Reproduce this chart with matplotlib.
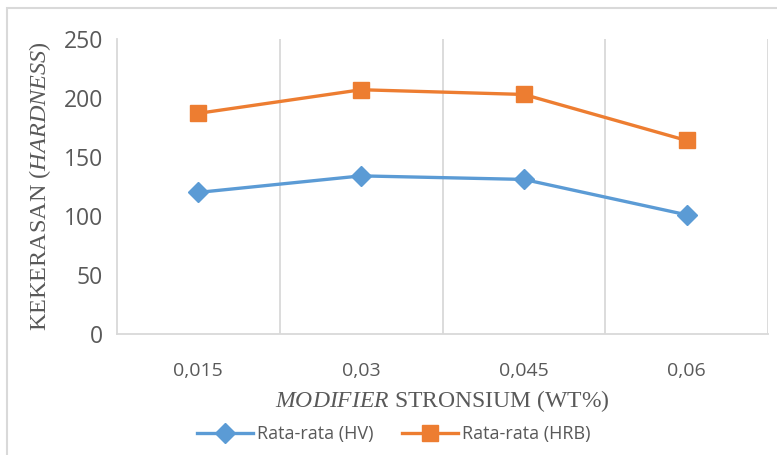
import matplotlib
matplotlib.use("Agg")
import matplotlib.pyplot as plt
from matplotlib.patches import Rectangle

# data
categories = ["0,015", "0,03", "0,045", "0,06"]
hv_values = [120, 134, 131, 101]
hrb_values = [187, 207, 203, 164]
y_ticks = [0, 50, 100, 150, 200, 250]

blue = "#5B9BD5"
orange = "#ED7D31"
text_gray = "#595959"
grid_gray = "#D9D9D9"

plt.rcParams["mathtext.fontset"] = "custom"
plt.rcParams["mathtext.rm"] = "Liberation Serif"
plt.rcParams["mathtext.it"] = "Liberation Serif:italic"

fig = plt.figure(figsize=(7.77, 4.55), dpi=100)
ax = fig.add_axes([117 / 777, 1 - 334 / 455, (768 - 117) / 777, (334 - 39) / 455])

x = list(range(len(categories)))
ax.plot(x, hv_values, color=blue, linewidth=2.4, marker="D", markersize=10,
        label="Rata-rata (HV)")
ax.plot(x, hrb_values, color=orange, linewidth=2.4, marker="s", markersize=12,
        label="Rata-rata (HRB)")

ax.set_xlim(-0.5, len(categories) - 0.5)
ax.set_ylim(0, 250)
ax.set_yticks(y_ticks)
ax.set_xticks(x)
ax.set_xticklabels(categories)
ax.set_xticks([i + 0.5 for i in x], minor=True)
ax.grid(True, which="minor", axis="x", color=grid_gray, linewidth=1.3)
ax.tick_params(which="both", length=0)
ax.tick_params(axis="y", labelsize=16.5, labelcolor=text_gray, pad=10)
ax.tick_params(axis="x", labelsize=14, labelcolor=text_gray, pad=20)
for lbl in ax.get_xticklabels() + ax.get_yticklabels():
    lbl.set_fontfamily("Open Sans")

for side in ["top", "right"]:
    ax.spines[side].set_visible(False)
for side in ["left", "bottom"]:
    ax.spines[side].set_color(grid_gray)
    ax.spines[side].set_linewidth(1.3)

ax.set_ylabel("KEKERASAN ($\\mathit{HARDNESS}$)", fontsize=17.5, color=text_gray,
              fontfamily="Liberation Serif", labelpad=8)
ax.set_xlabel("$\\mathit{MODIFIER}$ STRONSIUM (WT%)", fontsize=17, color=text_gray,
              fontfamily="Liberation Serif", labelpad=6)

leg = ax.legend(loc="upper center", bbox_to_anchor=(0.425, -0.255), ncol=2,
                frameon=False, handlelength=3.1, columnspacing=1.6,
                handletextpad=0.2, prop={"family": "Open Sans", "size": 13})
for t in leg.get_texts():
    t.set_color(text_gray)

# outer chart frame
fig.patches.append(Rectangle((7 / 777, -0.1), 1.2, 1 - 8 / 455 + 0.1,
                             transform=fig.transFigure, fill=False,
                             edgecolor=grid_gray, linewidth=1.5))

fig.savefig("out.png", dpi=100)
